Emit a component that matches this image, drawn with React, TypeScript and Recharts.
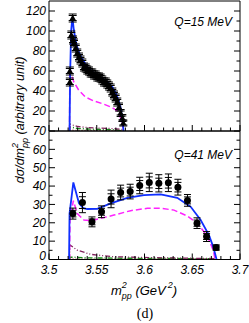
import { ComposedChart, Line, Scatter, XAxis, YAxis, ErrorBar } from 'recharts'

const FONT = '"Liberation Sans", Arial, sans-serif'

// x ticks shared by both panels (minor every 0.01, labelled every 0.05)
const xTicks = [3.5, 3.51, 3.52, 3.53, 3.54, 3.55, 3.56, 3.57, 3.58, 3.59, 3.6, 3.61, 3.62, 3.63, 3.64, 3.65, 3.66, 3.67, 3.68, 3.69, 3.7]
const topYTicks = [10, 20, 30, 40, 50, 60, 70, 80, 90, 100, 110, 120]
const topYLabels = [20, 40, 60, 80, 100, 120]
const botYTicks = [0, 5, 10, 15, 20, 25, 30, 35, 40, 45, 50, 55, 60, 65, 70]
const botYLabels = [0, 10, 20, 30, 40, 50, 60, 70]

// Q = 15 MeV data
const topX = [3.5218, 3.5218, 3.5234, 3.5248, 3.5252, 3.5262, 3.528, 3.5296, 3.5314, 3.533, 3.5349, 3.5366, 3.5384, 3.5401, 3.5419, 3.5437, 3.5453, 3.5471, 3.5489, 3.5506, 3.5524, 3.5541, 3.5558, 3.5576, 3.5594, 3.561, 3.5628, 3.5646, 3.5663, 3.568, 3.5698, 3.5715, 3.5733, 3.575, 3.5768, 3.5778]
const topY = [60, 49, 96, 113, 91, 88, 83, 78, 74, 71, 68, 64, 63, 61, 60, 58, 58, 56, 56, 54, 54, 53, 51, 49, 49, 47, 45, 43, 39, 36, 33, 29, 24, 18, 13, 8]
const topErr = [4, 4, 4, 4, 4, 4, 4, 4, 4, 4, 4, 4, 4, 4, 4, 4, 4, 4, 4, 4, 4, 4, 4, 4, 4, 4, 4, 4, 4, 4, 4, 4, 4, 3.5, 3.5, 3]
const topStat = [2.5, 2.5, 2.5, 2.5, 2.5, 2.5, 2.5, 2.5, 2.5, 2.5, 2.5, 2.5, 2.5, 2.5, 2.5, 2.5, 2.5, 2.5, 2.5, 2.5, 2.5, 2.5, 2.5, 2.5, 2.5, 2.5, 2.5, 2.5, 2.5, 2.5, 2.5, 2.5, 2.5, 2, 2, 2]

const topBlueX = [3.5215, 3.5222, 3.5232, 3.5245, 3.526, 3.528, 3.5296, 3.532, 3.535, 3.54, 3.547, 3.554, 3.561, 3.5663, 3.57, 3.573, 3.575, 3.5768, 3.5778, 3.578]
const topBlueY = [0, 60, 100, 114, 101, 90, 84, 77, 72, 64, 58, 54, 49, 44, 38, 30, 23, 12, 3, 0]
const topMagX = [3.5215, 3.5218, 3.523, 3.526, 3.531, 3.538, 3.547, 3.557, 3.566, 3.5715, 3.5743, 3.5768, 3.578]
const topMagY = [0, 63, 58, 49, 41, 34, 30, 27, 23.5, 20, 14.5, 8, 0]
const topPurX = [3.5215, 3.522, 3.525, 3.53, 3.54, 3.55, 3.56, 3.57, 3.577, 3.578]
const topPurY = [0, 7, 6, 4.5, 3.5, 3, 2.7, 2.2, 1.5, 0]
const topGrnX = [3.5215, 3.522, 3.525, 3.53, 3.54, 3.55, 3.56, 3.57, 3.578]
const topGrnY = [0, 4, 3.5, 2.5, 2, 1.7, 1.5, 1.2, 0]
const topRedX = [3.5215, 3.55, 3.578]
const topRedY = [0.8, 0.6, 0.3]

// Q = 41 MeV data
const botX = [3.525, 3.535, 3.545, 3.555, 3.565, 3.575, 3.585, 3.595, 3.605, 3.615, 3.625, 3.635, 3.645, 3.655, 3.665, 3.675]
const botY = [25, 31, 20.5, 26, 33, 36.5, 37, 40.3, 42, 41.5, 41.8, 39.4, 32.2, 19.8, 12.5, 6.5]
const botErr = [3, 5.5, 2.7, 3.2, 4.8, 4, 4, 4.5, 5, 4.7, 4.8, 4.3, 3.2, 2.9, 2.7, 1.5]
const botStat = [1.8, 3.2, 1.6, 1.9, 2.8, 2.4, 2.4, 2.7, 3, 2.8, 2.9, 2.6, 1.9, 1.7, 1.6, 0.9]

const botBlueX = [3.521, 3.5215, 3.5255, 3.5314, 3.536, 3.5401, 3.5506, 3.5646, 3.582, 3.5995, 3.617, 3.6343, 3.6484, 3.6588, 3.6675, 3.672, 3.6755]
const botBlueY = [0, 25, 42, 30.6, 28, 27.5, 27.6, 30.6, 33.6, 35.1, 35.5, 33.6, 28.7, 21.5, 13.3, 6.9, 0]
const botMagX = [3.5215, 3.522, 3.5255, 3.5296, 3.5366, 3.5437, 3.5541, 3.568, 3.5855, 3.603, 3.617, 3.6309, 3.6448, 3.6553, 3.6623, 3.6675, 3.672, 3.674]
const botMagY = [0, 22, 32, 25, 21.5, 21.1, 22.4, 24.2, 26.6, 27.9, 27.9, 26.9, 23.7, 19.7, 15.1, 10.6, 5, 0]
const botPurX = [3.5215, 3.522, 3.5296, 3.5437, 3.568, 3.62, 3.674]
const botPurY = [0, 7.9, 5.1, 2.8, 1.5, 0.9, 0.5]
const botGrnX = [3.5215, 3.522, 3.54, 3.6, 3.674]
const botGrnY = [0, 1.3, 0.9, 0.6, 0.4]
const botRedX = [3.5215, 3.6, 3.674]
const botRedY = [0.2, 0.2, 0.2]

const pts = (xs: number[], ys: number[]) => xs.map((x, i) => ({ x, y: ys[i] }))
const errPts = (xs: number[], ys: number[], e: number[], s: number[]) =>
  xs.map((x, i) => ({ x, y: ys[i], e: e[i], s: s[i] }))

const isMajorX = (v: number) => Math.abs(v * 20 - Math.round(v * 20)) < 1e-6

function XTick({ x, y, payload, up, labels }: any) {
  const v = payload.value
  const major = isMajorX(v)
  const len = major ? 6 : 3.5
  return (
    <g>
      <line x1={x} x2={x} y1={y} y2={up ? y - len : y + len} stroke="#000" strokeWidth={1} />
      {labels && major && (
        <text x={x} y={y + 14} textAnchor="middle" fontFamily={FONT} fontStyle="italic" fontSize={12} fill="#000">
          {String(v)}
        </text>
      )}
    </g>
  )
}

function YTick({ x, y, payload, right, labels, majors }: any) {
  const v = payload.value
  const major = majors.includes(v)
  const len = major ? 6 : 3.5
  // the 0 label sits on the corner, nudge it clear of the 3.5 below
  const ly = labels && v === 0 ? y - 4 : y
  return (
    <g>
      <line x1={x} x2={right ? x - len : x + len} y1={y} y2={y} stroke="#000" strokeWidth={1} />
      {labels && labels.includes(v) && (
        <text x={x - 3} y={ly} dy="0.36em" textAnchor="end" fontFamily={FONT} fontStyle="italic" fontSize={12} fill="#000">
          {v}
        </text>
      )}
    </g>
  )
}

function Triangle({ cx, cy }: any) {
  return <path d={`M${cx},${cy - 3.6} L${cx + 3.2},${cy + 2.2} L${cx - 3.2},${cy + 2.2} Z`} fill="#000" />
}

function Dot({ cx, cy }: any) {
  return <circle cx={cx} cy={cy} r={3.5} fill="#000" />
}

function Curves({ blue, mag, pur, grn, red }: any) {
  return [
    <Line key="r" data={red} dataKey="y" stroke="#8b1a1a" strokeWidth={1.2} strokeDasharray="1 2" dot={false} isAnimationActive={false} />,
    <Line key="g" data={grn} dataKey="y" stroke="#1a8a1a" strokeWidth={1.4} strokeDasharray="5 2 1 2" dot={false} isAnimationActive={false} />,
    <Line key="p" data={pur} dataKey="y" stroke="#80205a" strokeWidth={1.3} strokeDasharray="5 2 1 2 1 2" dot={false} isAnimationActive={false} />,
    <Line key="m" data={mag} dataKey="y" stroke="#ff22ff" strokeWidth={1.5} strokeDasharray="6 3" dot={false} isAnimationActive={false} />,
    <Line key="b" data={blue} dataKey="y" stroke="#1030ff" strokeWidth={1.8} dot={false} isAnimationActive={false} />,
  ]
}

// axes need a non-zero box or recharts skips them; margins absorb the 1px
function Panel({ height, margin, domain, yTicks, yMajors, yLabels, xLabels, points, shape, capW, curves }: any) {
  return (
    <ComposedChart width={249} height={height} margin={margin}>
      <XAxis xAxisId={0} dataKey="x" type="number" domain={[3.5, 3.7]} ticks={xTicks} interval={0} height={1}
        allowDataOverflow tickSize={0} tickMargin={0} tickLine={false} axisLine={{ stroke: '#000' }}
        tick={(p: any) => <XTick {...p} up labels={xLabels} />} />
      <XAxis xAxisId="t" orientation="top" type="number" domain={[3.5, 3.7]} ticks={xTicks} interval={0} height={1}
        allowDataOverflow tickSize={0} tickMargin={0} tickLine={false} axisLine={{ stroke: '#000' }}
        tick={(p: any) => <XTick {...p} />} />
      <YAxis yAxisId={0} dataKey="y" type="number" domain={domain} ticks={yTicks} interval={0} width={40}
        allowDataOverflow tickSize={0} tickMargin={0} tickLine={false} axisLine={{ stroke: '#000' }}
        tick={(p: any) => <YTick {...p} labels={yLabels} majors={yMajors} />} />
      <YAxis yAxisId="r" orientation="right" type="number" domain={domain} ticks={yTicks} interval={0} width={1}
        allowDataOverflow tickSize={0} tickMargin={0} tickLine={false} axisLine={{ stroke: '#000' }}
        tick={(p: any) => <YTick {...p} right majors={yMajors} />} />
      {Curves(curves)}
      <Scatter data={points} dataKey="y" shape={shape} isAnimationActive={false}>
        <ErrorBar dataKey="e" direction="y" width={capW} stroke="#000" strokeWidth={1} />
        <ErrorBar dataKey="s" direction="y" width={capW} stroke="#000" strokeWidth={1} />
      </Scatter>
    </ComposedChart>
  )
}

export default function App() {
  const italic = { fontFamily: FONT, fontStyle: 'italic' as const, fill: '#000' }
  return (
    <div style={{ position: 'absolute', left: 0, top: 0, width: 249, height: 323, background: '#fff' }}>
      <div style={{ position: 'absolute', left: 0, top: 0 }}>
        <Panel
          height={132}
          margin={{ top: 0, right: 8, bottom: 0, left: 9 }}
          domain={[0, 130]}
          yTicks={topYTicks}
          yMajors={topYLabels}
          yLabels={topYLabels}
          xLabels={false}
          points={errPts(topX, topY, topErr, topStat)}
          shape={Triangle}
          capW={4}
          curves={{
            blue: pts(topBlueX, topBlueY), mag: pts(topMagX, topMagY), pur: pts(topPurX, topPurY),
            grn: pts(topGrnX, topGrnY), red: pts(topRedX, topRedY),
          }}
        />
      </div>
      <div style={{ position: 'absolute', left: 0, top: 0 }}>
        <Panel
          height={323}
          margin={{ top: 130, right: 8, bottom: 62.5, left: 9 }}
          domain={[0, 70]}
          yTicks={botYTicks}
          yMajors={botYLabels}
          yLabels={botYLabels}
          xLabels
          points={errPts(botX, botY, botErr, botStat)}
          shape={Dot}
          capW={3.5}
          curves={{
            blue: pts(botBlueX, botBlueY), mag: pts(botMagX, botMagY), pur: pts(botPurX, botPurY),
            grn: pts(botGrnX, botGrnY), red: pts(botRedX, botRedY),
          }}
        />
      </div>
      <svg width={249} height={323} style={{ position: 'absolute', left: 0, top: 0, pointerEvents: 'none' }}>
        <text x={232} y={26} textAnchor="end" fontSize={12} {...italic}>Q=15 MeV</text>
        <text x={232} y={159} textAnchor="end" fontSize={12} {...italic}>Q=41 MeV</text>
        <text transform="rotate(-90)" x={-120} y={24} textAnchor="middle" fontSize={12.5} {...italic}>
          <tspan>dσ/dm</tspan>
          <tspan dy={-6} fontSize={9}>2</tspan>
          <tspan dx={-5} dy={10} fontSize={9}>pp</tspan>
          <tspan dy={-4}> (arbitrary unit)</tspan>
        </text>
        <text x={144} y={295} textAnchor="middle" fontSize={13} {...italic}>
          <tspan>m</tspan>
          <tspan dy={-7} fontSize={9}>2</tspan>
          <tspan dx={-5} dy={11} fontSize={9}>pp</tspan>
          <tspan dy={-4}> (GeV</tspan>
          <tspan dx={2} dy={-7} fontSize={9}>2</tspan>
          <tspan dy={7}>)</tspan>
        </text>
        <text x={145} y={318} textAnchor="middle" fontFamily='"Liberation Serif", "Times New Roman", serif' fontSize={14} fill="#000">(d)</text>
      </svg>
    </div>
  )
}
